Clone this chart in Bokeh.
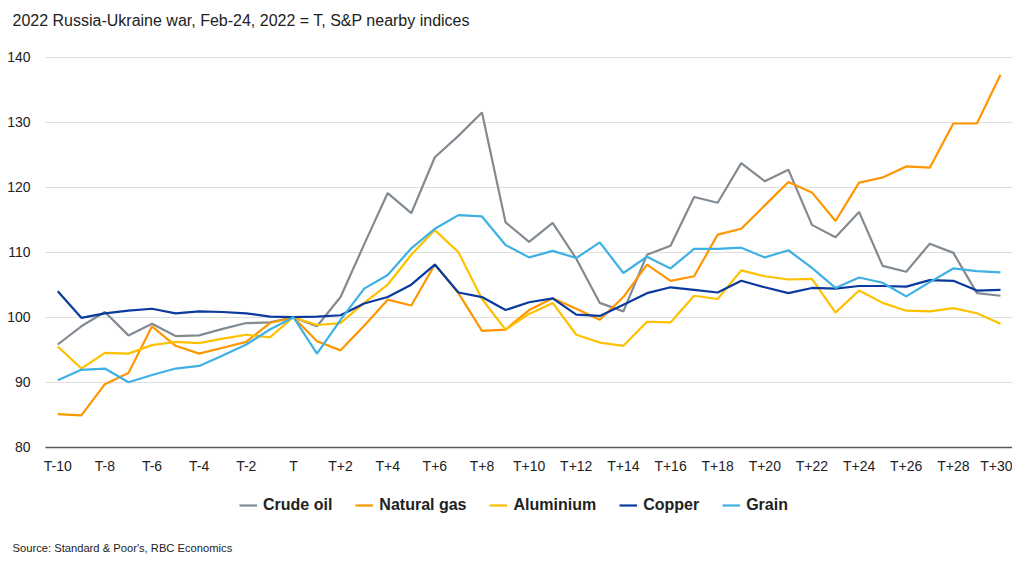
from bokeh.plotting import figure
from bokeh.models import Range1d, FixedTicker, Legend, LegendItem, Label, Grid
from bokeh.embed import file_html
from bokeh.resources import INLINE

categories = ["T-10", "T-9", "T-8", "T-7", "T-6", "T-5", "T-4", "T-3", "T-2", "T-1", "T",
              "T+1", "T+2", "T+3", "T+4", "T+5", "T+6", "T+7", "T+8", "T+9", "T+10",
              "T+11", "T+12", "T+13", "T+14", "T+15", "T+16", "T+17", "T+18", "T+19", "T+20",
              "T+21", "T+22", "T+23", "T+24", "T+25", "T+26", "T+27", "T+28", "T+29", "T+30"]

crude_oil = [95.8, 98.6, 100.8, 97.2, 99.0, 97.1, 97.2, 98.2, 99.1, 99.2, 100.0,
             98.6, 103.1, 111.2, 119.1, 116.0, 124.6, 127.9, 131.5, 114.6, 111.6,
             114.5, 109.0, 102.2, 100.9, 109.6, 111.0, 118.5, 117.6, 123.7, 120.9,
             122.7, 114.2, 112.3, 116.2, 107.9, 107.0, 111.3, 109.9, 103.7, 103.3]

natural_gas = [85.1, 84.9, 89.7, 91.4, 98.6, 95.6, 94.4, 95.3, 96.2, 99.1, 100.0,
               96.3, 94.9, 98.7, 102.7, 101.8, 108.1, 103.7, 97.9, 98.1, 101.1,
               102.9, 101.3, 99.6, 103.1, 108.1, 105.6, 106.3, 112.7, 113.6, 117.2,
               120.8, 119.2, 114.8, 120.7, 121.5, 123.2, 123.0, 129.8, 129.8, 137.3]

aluminium = [95.5, 92.1, 94.5, 94.4, 95.7, 96.2, 96.0, 96.7, 97.3, 96.9, 100.0,
             98.8, 99.1, 102.2, 105.0, 109.6, 113.4, 110.0, 102.8, 98.1, 100.5,
             102.2, 97.3, 96.1, 95.6, 99.3, 99.2, 103.3, 102.8, 107.2, 106.3,
             105.8, 105.9, 100.7, 104.1, 102.2, 101.0, 100.9, 101.4, 100.6, 99.0]

copper = [104.0, 99.9, 100.6, 101.0, 101.3, 100.6, 100.9, 100.8, 100.6, 100.1, 100.0,
          100.1, 100.3, 102.1, 103.1, 105.0, 108.1, 103.8, 103.1, 101.1, 102.3,
          102.9, 100.4, 100.2, 101.9, 103.7, 104.6, 104.2, 103.8, 105.6, 104.6,
          103.7, 104.5, 104.4, 104.8, 104.8, 104.7, 105.7, 105.6, 104.1, 104.2]

grain = [90.3, 91.9, 92.1, 90.0, 91.1, 92.1, 92.5, 94.1, 95.8, 98.1, 100.0,
         94.4, 99.6, 104.4, 106.5, 110.6, 113.6, 115.7, 115.5, 111.1, 109.2,
         110.2, 109.1, 111.5, 106.8, 109.3, 107.5, 110.5, 110.5, 110.7, 109.2,
         110.3, 107.6, 104.5, 106.1, 105.3, 103.2, 105.4, 107.5, 107.1, 106.9]

series_names = ["Crude oil", "Natural gas", "Aluminium", "Copper", "Grain"]
series_values = [crude_oil, natural_gas, aluminium, copper, grain]
series_colors = ["#828a92", "#ff9600", "#ffc000", "#0a3a9e", "#3fb0e3"]

y_ticks = [80, 90, 100, 110, 120, 130, 140]

title_text = "2022 Russia-Ukraine war, Feb-24, 2022 = T, S&P nearby indices"
source_text = "Source: Standard & Poor's, RBC Economics"

FONT = "Liberation Sans"

# canvas and plot-area geometry (canvas pixels)
W, H = 1012, 560
PL, PR, PT, PB = 45.0, 1012.0, 56.7, 446.7

xs = list(range(len(categories)))
x0, x1 = -0.52, len(categories) - 1 + 0.51
y0, y1 = y_ticks[0], y_ticks[-1]
pxu = (PR - PL) / (x1 - x0)
pyu = (PB - PT) / (y1 - y0)

def dx(cx):
    return x0 + (cx - PL) / pxu

def dy(cy):
    return y1 - (cy - PT) / pyu

p = figure(output_backend="svg", toolbar_location=None,
           width=W, height=H,
           min_border_left=0, min_border_right=0,
           min_border_top=0, min_border_bottom=0,
           x_range=Range1d(dx(0), dx(W)), y_range=Range1d(dy(H), dy(0)))
p.title.visible = False
p.background_fill_color = "white"
p.border_fill_color = "white"
p.outline_line_color = None

# axes placed inside the frame at the plot-area edges
p.xaxis.fixed_location = y0
p.xaxis.bounds = (x0, x1)
p.yaxis.fixed_location = x0
p.yaxis.bounds = (y0, y1)
p.xaxis.ticker = FixedTicker(ticks=xs[::2])
p.xaxis.major_label_overrides = {i: categories[i] for i in xs}
p.yaxis.ticker = FixedTicker(ticks=y_ticks)
for ax in (p.xaxis, p.yaxis):
    ax.major_label_text_font = FONT
    ax.major_label_text_font_size = "14px"
    ax.major_label_text_color = "#222222"
    ax.major_tick_line_color = None
    ax.minor_tick_line_color = None
p.yaxis.axis_line_color = None
p.xaxis.axis_line_color = "#595959"
p.xaxis.axis_line_width = 1.5
p.xaxis.major_label_standoff = 5
p.yaxis.major_label_standoff = 9

p.xgrid.grid_line_color = None
if "cross_bounds" in Grid.properties():
    p.ygrid.ticker = FixedTicker(ticks=y_ticks[1:])
    p.ygrid.cross_bounds = (x0, x1)
    p.ygrid.grid_line_color = "#dedede"
    p.ygrid.grid_line_width = 1
else:
    p.ygrid.grid_line_color = None
    p.segment(x0=[x0] * (len(y_ticks) - 1), x1=[x1] * (len(y_ticks) - 1),
              y0=y_ticks[1:], y1=y_ticks[1:], line_color="#dedede", line_width=1)

items = []
for name, vals, col in zip(series_names, series_values, series_colors):
    r = p.line(xs, vals, line_color=col, line_width=2.2)
    items.append(LegendItem(label=name, renderers=[r]))

legend = Legend(items=items, orientation="horizontal", location=(239, H - 515),
                label_text_font=FONT, label_text_font_size="16px",
                label_text_font_style="bold", label_text_color="#222222",
                glyph_width=18, glyph_height=20, label_height=20,
                label_standoff=6, spacing=23,
                border_line_color=None, background_fill_alpha=0,
                margin=0, padding=0)
p.add_layout(legend)

title = Label(x=dx(12), y=dy(20), text=title_text,
              text_font=FONT, text_font_size="16px", text_color="#222222",
              text_baseline="middle", text_align="left")
p.add_layout(title)

source = Label(x=dx(12), y=dy(547), text=source_text,
               text_font=FONT, text_font_size="11.2px", text_color="#222222",
               text_baseline="middle", text_align="left")
p.add_layout(source)

open("out.html", "w").write(file_html(p, INLINE))
